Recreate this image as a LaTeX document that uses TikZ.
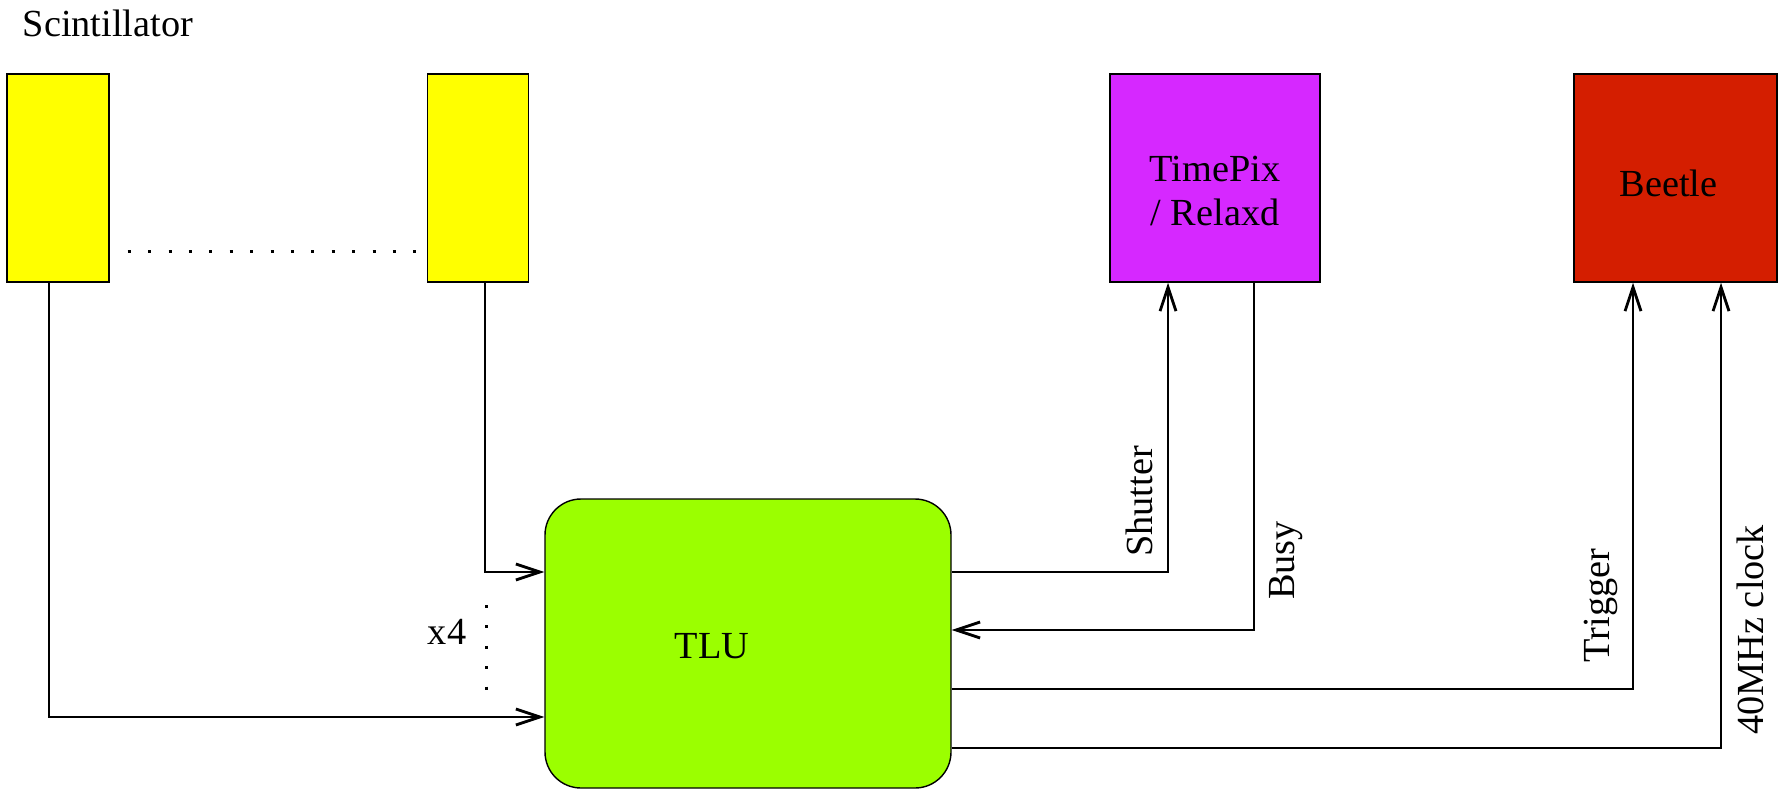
\documentclass[tikz,border=0pt]{standalone}
\usepackage{fontspec}
\setmainfont{Liberation Serif}
\usetikzlibrary{positioning, arrows.meta}
\definecolor{scintyellow}{RGB}{255,255,0}
\definecolor{relaxdpink}{RGB}{214,40,255}
\definecolor{beetlered}{RGB}{212,30,0}
\definecolor{tlugreen}{RGB}{155,255,0}
\tikzset{>={Straight Barb[length=2.4mm,width=1.6mm]}, node distance=4.2cm}

\begin{document}
\begin{tikzpicture}[x=0.1mm, y=-0.1mm, font=\fontsize{10.9}{12.5}\selectfont,
    detector/.style={draw, line width=0.4pt, minimum height=20.8mm},
    sig/.style={->, line width=0.8pt},
    siglabel/.style={rotate=90, inner sep=1.4mm},
    dotline/.style={line width=0.3mm, dash pattern=on 0.3mm off 1.74mm}]
    \useasboundingbox (0,0) rectangle (1788,790);
    % scintillators
    \node[detector, fill=scintyellow, minimum width=10.2mm] (scintA) at (58,178) {};
    \node[detector, fill=scintyellow, minimum width=10.1mm, right of=scintA] (scintB) {};
    \node (scinttext) at (108,23) {Scintillator};
    \draw[dotline] ([xshift=1.8mm,yshift=3.1mm]scintA.south east) -- ([xshift=-0.6mm,yshift=3.1mm]scintB.south west);
    % readout
    \node[detector, fill=relaxdpink, minimum width=21mm] (timepix) at (1215,178) {};
    \node[align=center] (timepixtext) at ([yshift=-1.3mm]timepix.center) {TimePix\\/ Relaxd};
    \node[detector, fill=beetlered, minimum width=20.3mm] (beetle) at (1675.5,178) {};
    \node (beetletext) at ([xshift=-0.7mm,yshift=-0.5mm]beetle.center) {Beetle};
    % trigger logic unit
    \node[draw, line width=0.4pt, fill=tlugreen, rounded corners=3.6mm, minimum width=40.6mm, minimum height=28.9mm] (tlu) at (748,643.5) {};
    \node (tlutext) at ([xshift=-3.6mm,yshift=-0.3mm]tlu.center) {TLU};
    \coordinate (moretop) at (486,605);
    \coordinate (morebot) at (486,690);
    \draw[dotline] (moretop) -- (morebot);
    \node (times) at (447,632) {x4};

    \draw[sig] ([xshift=-0.9mm]scintA.south) |- ([yshift=-7.35mm]tlu.west);
    \draw[sig] ([xshift=0.7mm]scintB.south) |- ([yshift=7.15mm]tlu.west);
    \draw[sig] ([yshift=7.15mm]tlu.east) -| ([xshift=-4.7mm]timepix.south)
        node[siglabel, pos=0.622, anchor=south] {Shutter};
    \draw[sig] ([xshift=3.9mm]timepix.south) |- ([yshift=1.35mm]tlu.east)
        node[siglabel, pos=0.40, anchor=north] {Busy};
    \draw[sig] ([yshift=-4.55mm]tlu.east) -| ([xshift=-4.25mm]beetle.south)
        node[siglabel, pos=0.603, anchor=south] {Trigger};
    \draw[sig] ([yshift=-10.45mm]tlu.east) -| ([xshift=4.55mm]beetle.south)
        node[siglabel, pos=0.627, anchor=north] {40MHz clock};
\end{tikzpicture}
\end{document}
